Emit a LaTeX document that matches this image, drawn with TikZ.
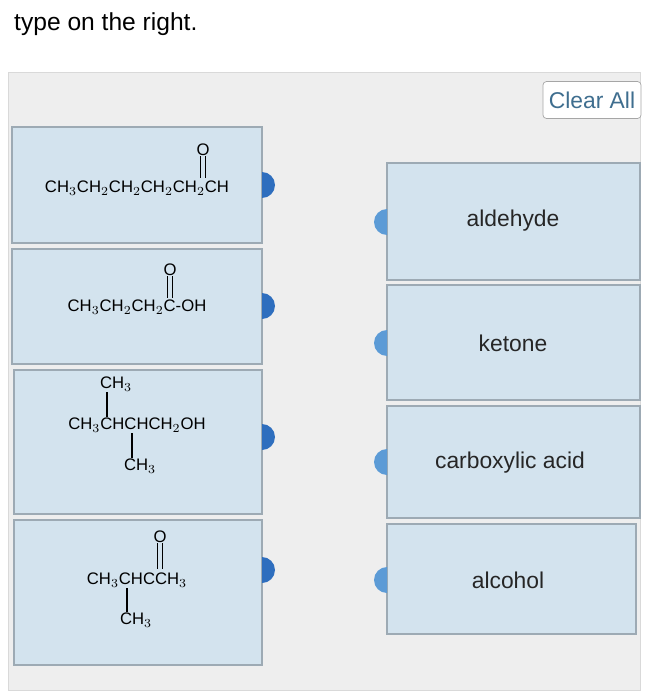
\documentclass[tikz,border=0pt]{standalone}
\usepackage{fontspec}
\setmainfont{Liberation Sans}
\usetikzlibrary{positioning}
\definecolor{panelbg}{HTML}{EEEEEE}
\definecolor{boxbg}{HTML}{D3E3EE}
\definecolor{boxline}{HTML}{9DAAB4}
\definecolor{tabdark}{HTML}{2E6EBE}
\definecolor{tablight}{HTML}{5C9BD6}
\definecolor{btntext}{HTML}{3F6E8F}
\begin{document}
\begin{tikzpicture}[x=0.02cm,y=-0.02cm,
    card/.style={draw=boxline, fill=boxbg, line width=0.6pt},
    formula/.style={font=\fontsize{9.5}{10}\selectfont, inner sep=0pt},
    answer/.style={font=\fontsize{13}{15}\selectfont, text=black!85},
    bond/.style={line width=0.6pt}
  ]
  \useasboundingbox (0,0) rectangle (646,700);
  \fill[white] (0,0) rectangle (646,700);

  % heading and panel
  \node[anchor=west, font=\fontsize{14}{16}\selectfont] (head) at (8,24) {type on the right.};
  \draw[draw=black!15, fill=panelbg] (8,72) rectangle (640,690);
  \node[draw=black!35, fill=white, rounded corners=2pt, minimum width=1.82cm, minimum height=0.74cm,
        text=btntext, font=\fontsize{13}{15}\selectfont] (clear) at (592,100) {Clear All};

  % left cards
  \draw[card] (12,127) rectangle (262,243);
  \draw[card] (12,249) rectangle (262,364);
  \draw[card] (14,370) rectangle (262,514);
  \draw[card] (14,520) rectangle (262,665);
  \begin{scope}
    \clip (262,100) rectangle (300,690);
    \foreach \y in {185,306,437,570}
      \fill[tabdark] (262,\y) circle (0.26cm);
  \end{scope}

  % right cards
  \draw[card] (387,163) rectangle (640,280);
  \draw[card] (387,285) rectangle (640,400);
  \draw[card] (387,406) rectangle (640,518);
  \draw[card] (387,524) rectangle (636,634);
  \begin{scope}
    \clip (350,100) rectangle (387,690);
    \foreach \y in {222,343,462,580}
      \fill[tablight] (387,\y) circle (0.26cm);
  \end{scope}

  \node[answer] (ald) at (513,221) {aldehyde};
  \node[answer] (ket) at (513,343) {ketone};
  \node[answer] (acid) at (510,463) {carboxylic acid};
  \node[answer] (alc) at (508,580) {alcohol};

  % structure 1
  \node[formula] (f1) at (137,188) {CH$_3$CH$_2$CH$_2$CH$_2$CH$_2$CH};
  \node[formula] (o1) at (203,150) {O};
  \draw[bond] ([xshift=-1.5pt]o1.south) -- ++(0,22);
  \draw[bond] ([xshift=1.5pt]o1.south) -- ++(0,22);

  % structure 2
  \node[formula] (f2) at (137,307) {CH$_3$CH$_2$CH$_2$C-OH};
  \node[formula] (o2) at (170,270) {O};
  \draw[bond] ([xshift=-1.5pt]o2.south) -- ++(0,22);
  \draw[bond] ([xshift=1.5pt]o2.south) -- ++(0,22);

  % structure 3
  \node[formula] (m3a) at (116,384) {CH$_3$};
  \node[formula] (f3) at (137,425) {CH$_3$CHCHCH$_2$OH};
  \node[formula] (m3b) at (140,466) {CH$_3$};
  \draw[bond] (107,392) -- (107,417);
  \draw[bond] (132,433) -- (132,458);

  % structure 4
  \node[formula] (o4) at (160,537) {O};
  \node[formula] (f4) at (137,580) {CH$_3$CHCCH$_3$};
  \node[formula] (m4) at (136,620) {CH$_3$};
  \draw[bond] ([xshift=-1.5pt]o4.south) -- ++(0,26);
  \draw[bond] ([xshift=1.5pt]o4.south) -- ++(0,26);
  \draw[bond] (127,588) -- (127,612);
\end{tikzpicture}
\end{document}
